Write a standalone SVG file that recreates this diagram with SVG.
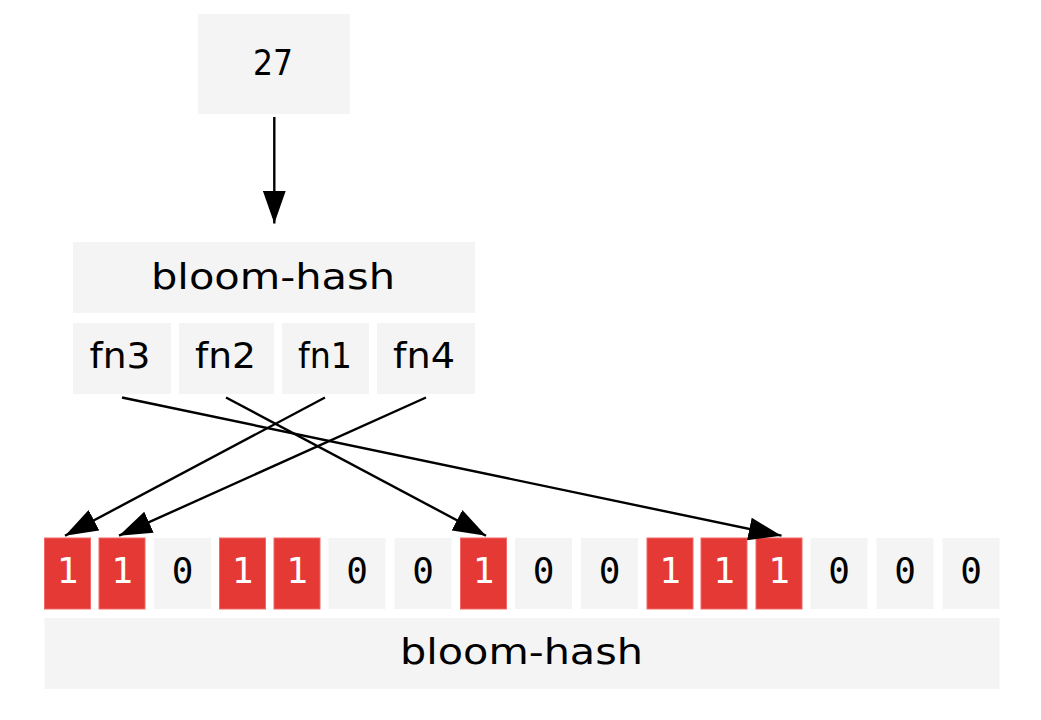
<svg xmlns="http://www.w3.org/2000/svg" width="1041" height="720" viewBox="0 0 1041 720">
<style>
.g{fill:#f4f4f4}
.r{fill:#e53935;stroke:#ef6a67;stroke-width:1}
.t{font-family:"DejaVu Sans","Noto Sans",sans-serif;font-size:36px;fill:#000;text-anchor:middle}
.b{font-family:"DejaVu Sans Mono","Liberation Mono",monospace;font-size:36px;text-anchor:middle}
.bk{fill:#000}
.wh{fill:#fff}
.e{stroke:#000;stroke-width:2.4;fill:none;marker-end:url(#ah)}
</style>
<defs>
<marker id="ah" viewBox="0 0 10 7" refX="10" refY="3.5" markerWidth="33" markerHeight="23" markerUnits="userSpaceOnUse" orient="auto">
<path d="M0,0 L10,3.5 L0,7 Z" fill="#000"/>
</marker>
</defs>
<rect width="1041" height="720" fill="#fff"/>
<g id="node-27">
<rect class="g" x="198" y="14" width="152" height="100"/>
<text class="t" x="273" y="75" textLength="40" lengthAdjust="spacingAndGlyphs">27</text>
</g>
<g id="node-hash">
<rect class="g" x="73" y="242" width="402" height="71"/>
<text class="t" x="273" y="289" textLength="244" lengthAdjust="spacingAndGlyphs">bloom-hash</text>
<g id="fn3"><rect class="g" x="73" y="323" width="98" height="71"/><text class="t" x="120" y="368" textLength="61" lengthAdjust="spacingAndGlyphs">fn3</text></g>
<g id="fn2"><rect class="g" x="179" y="323" width="95" height="71"/><text class="t" x="225.5" y="368" textLength="61" lengthAdjust="spacingAndGlyphs">fn2</text></g>
<g id="fn1"><rect class="g" x="282" y="323" width="87" height="71"/><text class="t" x="325" y="368" textLength="54" lengthAdjust="spacingAndGlyphs">fn1</text></g>
<g id="fn4"><rect class="g" x="377" y="323" width="98" height="71"/><text class="t" x="424" y="368" textLength="62" lengthAdjust="spacingAndGlyphs">fn4</text></g>
</g>
<g id="node-bits">
<g id="bit0"><rect class="r" x="44.5" y="538" width="46" height="71"/><text class="b wh" x="67.5" y="583">1</text></g>
<g id="bit1"><rect class="r" x="99" y="538" width="46" height="71"/><text class="b wh" x="122" y="583">1</text></g>
<g id="bit2"><rect class="g" x="154" y="538" width="57" height="71"/><text class="b bk" x="182.5" y="583">0</text></g>
<g id="bit3"><rect class="r" x="219.5" y="538" width="46" height="71"/><text class="b wh" x="242.5" y="583">1</text></g>
<g id="bit4"><rect class="r" x="274" y="538" width="46" height="71"/><text class="b wh" x="297" y="583">1</text></g>
<g id="bit5"><rect class="g" x="328.5" y="538" width="57" height="71"/><text class="b bk" x="357" y="583">0</text></g>
<g id="bit6"><rect class="g" x="394.5" y="538" width="57" height="71"/><text class="b bk" x="423" y="583">0</text></g>
<g id="bit7"><rect class="r" x="460.5" y="538" width="46" height="71"/><text class="b wh" x="483.5" y="583">1</text></g>
<g id="bit8"><rect class="g" x="515" y="538" width="57" height="71"/><text class="b bk" x="543.5" y="583">0</text></g>
<g id="bit9"><rect class="g" x="581" y="538" width="57" height="71"/><text class="b bk" x="609.5" y="583">0</text></g>
<g id="bit10"><rect class="r" x="647" y="538" width="46" height="71"/><text class="b wh" x="670" y="583">1</text></g>
<g id="bit11"><rect class="r" x="701" y="538" width="46" height="71"/><text class="b wh" x="724" y="583">1</text></g>
<g id="bit12"><rect class="r" x="756" y="538" width="46" height="71"/><text class="b wh" x="779" y="583">1</text></g>
<g id="bit13"><rect class="g" x="810.5" y="538" width="57" height="71"/><text class="b bk" x="839" y="583">0</text></g>
<g id="bit14"><rect class="g" x="876.5" y="538" width="57" height="71"/><text class="b bk" x="905" y="583">0</text></g>
<g id="bit15"><rect class="g" x="942.5" y="538" width="57" height="71"/><text class="b bk" x="971" y="583">0</text></g>
<rect class="g" x="44.5" y="618" width="955" height="71"/>
<text class="t" x="521.5" y="664" textLength="243" lengthAdjust="spacingAndGlyphs">bloom-hash</text>
</g>
<g id="edges">
<line class="e" x1="274.3" y1="117" x2="274.3" y2="223.5"/>
<line class="e" x1="122" y1="397.5" x2="781.5" y2="535.7"/>
<line class="e" x1="226" y1="397.5" x2="486" y2="535.7"/>
<line class="e" x1="325" y1="397.5" x2="65" y2="535.7"/>
<line class="e" x1="426" y1="397.5" x2="119" y2="535.7"/>
</g>
</svg>
